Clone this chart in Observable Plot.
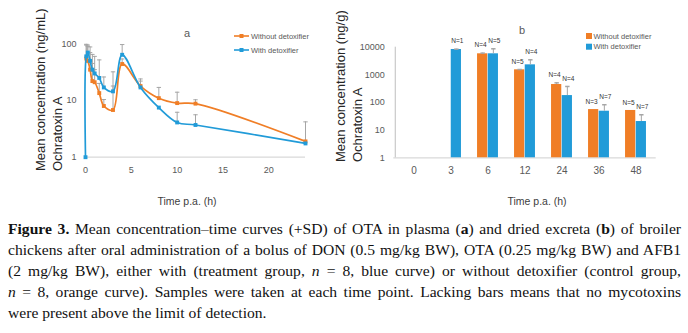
<!DOCTYPE html>
<html>
<head>
<meta charset="utf-8">
<script src="https://cdn.jsdelivr.net/npm/d3@7"></script>
<script src="https://cdn.jsdelivr.net/npm/@observablehq/plot@0.6"></script>
<style>
  body { margin: 0; background: #fff; }
  #root { position: relative; width: 688px; height: 333px; overflow: hidden; background: #fff; }
  #left, #right, #overlay { position: absolute; top: 0; }
  #left { left: 0; }
  #right { left: 344px; }
  #overlay { left: 0; pointer-events: none; }
  .cap { position: absolute; left: 8px; top: 218px; width: 673px; font-family: "Liberation Serif", serif; font-size: 15.6px; line-height: 21px; color: #111; }
  .cap .j { text-align: justify; text-align-last: justify; white-space: nowrap; }
</style>
</head>
<body>
<div id="root">
  <div id="left"></div>
  <div id="right"></div>
  <svg id="overlay" width="688" height="212" font-family="Liberation Sans, Arial, sans-serif"></svg>
  <div class="cap">
    <div class="j"><b>Figure 3.</b> Mean concentration–time curves (+SD) of OTA in plasma (<b>a</b>) and dried excreta (<b>b</b>) of broiler</div>
    <div class="j">chickens after oral administration of a bolus of DON (0.5 mg/kg BW), OTA (0.25 mg/kg BW) and AFB1</div>
    <div class="j">(2 mg/kg BW), either with (treatment group, <i>n</i> = 8, blue curve) or without detoxifier (control group,</div>
    <div class="j"><i>n</i> = 8, orange curve). Samples were taken at each time point. Lacking bars means that no mycotoxins</div>
    <div>were present above the limit of detection.</div>
  </div>
</div>
<script>
// ---------- Data: plasma (a) ----------
const plasmaTimes = [0, 0.083, 0.25, 0.5, 0.75, 1, 1.5, 2, 3, 4, 6, 8, 10, 12, 24];
const plasmaWithout = [null, 55, 50, 35, 22, 21, 13.5, 8, 6.8, 44, 18, 11, 9, 8.8, 1.9];
const plasmaWithoutTop = [null, 95, 90, 70, 45, 35, 20, 10.4, 18, 54, 24, 17, 14, 10.3, 4.2];
const plasmaWith = [1, 60, 70, 50, 35, 30, 25, 17, 14.5, 64, 17, 7.5, 4.1, 3.7, 1.75];
const plasmaWithTop = [null, 98, 95, 88, 65, 60, 52, 26, 32, 97, 22, null, 6.2, 5.6, null];
const plasmaXTicks = [0, 5, 10, 15, 20];
const plasmaYTicks = [1, 10, 100];

// ---------- Data: excreta (b) ----------
const excretaTimes = ["0", "3", "6", "12", "24", "36", "48"];
const excretaWithout = [null, null, 5770, 1520, 447, 55.5, 51.5];
const excretaWithoutTop = [null, null, 6100, 1560, 514, null, null];
const excretaWithoutN = [null, null, 4, 5, 4, 3, 5];
const excretaWith = [null, 8260, 5770, 2300, 178, 48.4, 20.5];
const excretaWithTop = [null, 8500, 8760, 3500, 380, 83, 36];
const excretaWithN = [null, 1, 5, 4, 4, 7, 7];
const excretaYTicks = [1, 10, 100, 1000, 10000];

const seriesNames = ["Without detoxifier", "With detoxifier"];
const ORANGE = "#F07E26";
const BLUE = "#219BD8";
const BLUEC = "#219BD8";
const ERR = "#a6a6a6";
const AXIS = "#d9d9d9";

const capSymbol = { draw(ctx, size) { const r = Math.sqrt(size / Math.PI); ctx.moveTo(-r, 0); ctx.lineTo(r, 0); } };

function rowsPlasma(vals, tops) {
  return plasmaTimes.map((t, i) => ({ t, v: vals[i], top: tops[i] })).filter(d => d.v != null);
}
const pWithout = rowsPlasma(plasmaWithout, plasmaWithoutTop);
const pWith = rowsPlasma(plasmaWith, plasmaWithTop);

const baseStyle = { fontFamily: "Liberation Sans, Arial, sans-serif", fontSize: "9px", color: "#595959", background: "transparent", overflow: "visible" };

const left = Plot.plot({
  width: 344, height: 212,
  marginLeft: 85, marginRight: 39, marginTop: 43.3, marginBottom: 55.3,
  x: { domain: [0, 24] },
  y: { type: "log", domain: [1, 100] },
  style: baseStyle,
  marks: [
    Plot.axisY({ ticks: plasmaYTicks, tickSize: 0, tickPadding: 9, tickFormat: d => String(d), label: null }),
    Plot.axisX({ ticks: plasmaXTicks, tickSize: 0, tickPadding: 9, tickFormat: d => String(d), label: null }),
    Plot.ruleY([1], { stroke: AXIS, strokeWidth: 1.2 }),
    Plot.ruleX(pWithout.filter(d => d.top != null), { x: "t", y1: "v", y2: "top", stroke: ERR, strokeWidth: 1 }),
    Plot.dot(pWithout.filter(d => d.top != null), { x: "t", y: "top", symbol: capSymbol, r: 2.2, stroke: ERR, strokeWidth: 1 }),
    Plot.ruleX(pWith.filter(d => d.top != null), { x: "t", y1: "v", y2: "top", stroke: ERR, strokeWidth: 1 }),
    Plot.dot(pWith.filter(d => d.top != null), { x: "t", y: "top", symbol: capSymbol, r: 2.2, stroke: ERR, strokeWidth: 1 }),
    Plot.line(pWithout, { x: "t", y: "v", stroke: ORANGE, strokeWidth: 1.7, curve: "catmull-rom" }),
    Plot.dot(pWithout, { x: "t", y: "v", symbol: "square", r: 2.2, fill: ORANGE }),
    Plot.line(pWith, { x: "t", y: "v", stroke: BLUEC, strokeWidth: 1.7, curve: "catmull-rom" }),
    Plot.dot(pWith, { x: "t", y: "v", symbol: "square", r: 2.2, fill: BLUEC })
  ]
});
document.getElementById("left").appendChild(left);

// ---------- Excreta bars ----------
const eWithout = excretaTimes.map((t, i) => ({ t, v: excretaWithout[i], top: excretaWithoutTop[i], n: excretaWithoutN[i] })).filter(d => d.v != null);
const eWith = excretaTimes.map((t, i) => ({ t, v: excretaWith[i], top: excretaWithTop[i], n: excretaWithN[i] })).filter(d => d.v != null);

const rW = 344, rML = 49.3, rMR = 32.3;
const step = (rW - rML - rMR) / excretaTimes.length;
const bw = 10.7;
const half = step / 2;

const labelTop = d => Math.max(d.v, d.top ?? d.v);

const right = Plot.plot({
  width: rW, height: 212,
  marginLeft: rML, marginRight: rMR, marginTop: 46.7, marginBottom: 54.7,
  x: { domain: excretaTimes, type: "band", padding: 0 },
  y: { type: "log", domain: [1, 10000] },
  style: baseStyle,
  marks: [
    Plot.axisY({ ticks: excretaYTicks, tickSize: 0, tickPadding: 9, tickFormat: d => String(d), label: null }),
    Plot.axisX({ tickSize: 0, tickPadding: 9.5, fontSize: 10, label: null }),
    Plot.ruleY([1], { stroke: AXIS, strokeWidth: 1.2 }),
    Plot.ruleX([excretaTimes[0]], { x: d => d, y1: 1, y2: 10000, dx: -half, stroke: "#bfbfbf", strokeWidth: 1 }),
    Plot.barY(eWithout, { x: "t", y1: 1, y2: "v", fill: ORANGE, insetLeft: half - bw, insetRight: half }),
    Plot.barY(eWith, { x: "t", y1: 1, y2: "v", fill: BLUEC, insetLeft: half, insetRight: half - bw }),
    Plot.ruleX(eWithout.filter(d => d.top != null), { x: "t", y1: "v", y2: "top", dx: -bw / 2, stroke: ERR }),
    Plot.dot(eWithout.filter(d => d.top != null), { x: "t", y: "top", dx: -bw / 2, symbol: capSymbol, r: 2.2, stroke: ERR }),
    Plot.ruleX(eWith.filter(d => d.top != null), { x: "t", y1: "v", y2: "top", dx: bw / 2, stroke: ERR }),
    Plot.dot(eWith.filter(d => d.top != null), { x: "t", y: "top", dx: bw / 2, symbol: capSymbol, r: 2.2, stroke: ERR }),
    Plot.text(eWithout, { x: "t", y: labelTop, text: d => "N=" + d.n, dx: -bw / 2 - 2, dy: -8, fontSize: 6.5, fill: "#333" }),
    Plot.text(eWith, { x: "t", y: labelTop, text: d => "N=" + d.n, dx: bw / 2 + 1, dy: -8, fontSize: 6.5, fill: "#333" })
  ]
});
document.getElementById("right").appendChild(right);

// ---------- Titles, panel letters, legends ----------
const ov = d3.select("#overlay");
function vtitle(x, yBottom, txt) {
  ov.append("text").attr("transform", `translate(${x},${yBottom}) rotate(-90)`)
    .attr("dominant-baseline", "central").attr("font-size", 13).attr("fill", "#262626").text(txt);
}
vtitle(40, 171, "Mean concentration (ng/mL)");
vtitle(57, 171, "Ochratoxin A");
vtitle(340, 162, "Mean concentration (ng/g)");
vtitle(357, 162, "Ochratoxin A");

ov.append("text").attr("x", 187).attr("y", 33).attr("text-anchor", "middle").attr("dominant-baseline", "central")
  .attr("font-size", 11).attr("fill", "#595959").text("a");
ov.append("text").attr("x", 522).attr("y", 29.5).attr("text-anchor", "middle").attr("dominant-baseline", "central")
  .attr("font-size", 11).attr("fill", "#595959").text("b");

ov.append("text").attr("x", 187).attr("y", 201).attr("text-anchor", "middle").attr("dominant-baseline", "central")
  .attr("font-size", 10.5).attr("fill", "#404040").text("Time p.a. (h)");
ov.append("text").attr("x", 537).attr("y", 201).attr("text-anchor", "middle").attr("dominant-baseline", "central")
  .attr("font-size", 10.5).attr("fill", "#404040").text("Time p.a. (h)");

// left legend (line + marker)
[[ORANGE, 36], [BLUEC, 50]].forEach(([c, y], i) => {
  ov.append("line").attr("x1", 234).attr("x2", 249).attr("y1", y).attr("y2", y).attr("stroke", c).attr("stroke-width", 1.6);
  ov.append("rect").attr("x", 239.5).attr("y", y - 2).attr("width", 4).attr("height", 4).attr("fill", c);
  ov.append("text").attr("x", 251).attr("y", y).attr("dominant-baseline", "central").attr("font-size", 7.5)
    .attr("fill", "#595959").text(seriesNames[i]);
});
// right legend (squares)
[[ORANGE, 36], [BLUEC, 46.7]].forEach(([c, y], i) => {
  ov.append("rect").attr("x", 586).attr("y", y - 3).attr("width", 6).attr("height", 6).attr("fill", c);
  ov.append("text").attr("x", 593.5).attr("y", y).attr("dominant-baseline", "central").attr("font-size", 7.5)
    .attr("fill", "#595959").text(seriesNames[i]);
});
</script>
</body>
</html>
